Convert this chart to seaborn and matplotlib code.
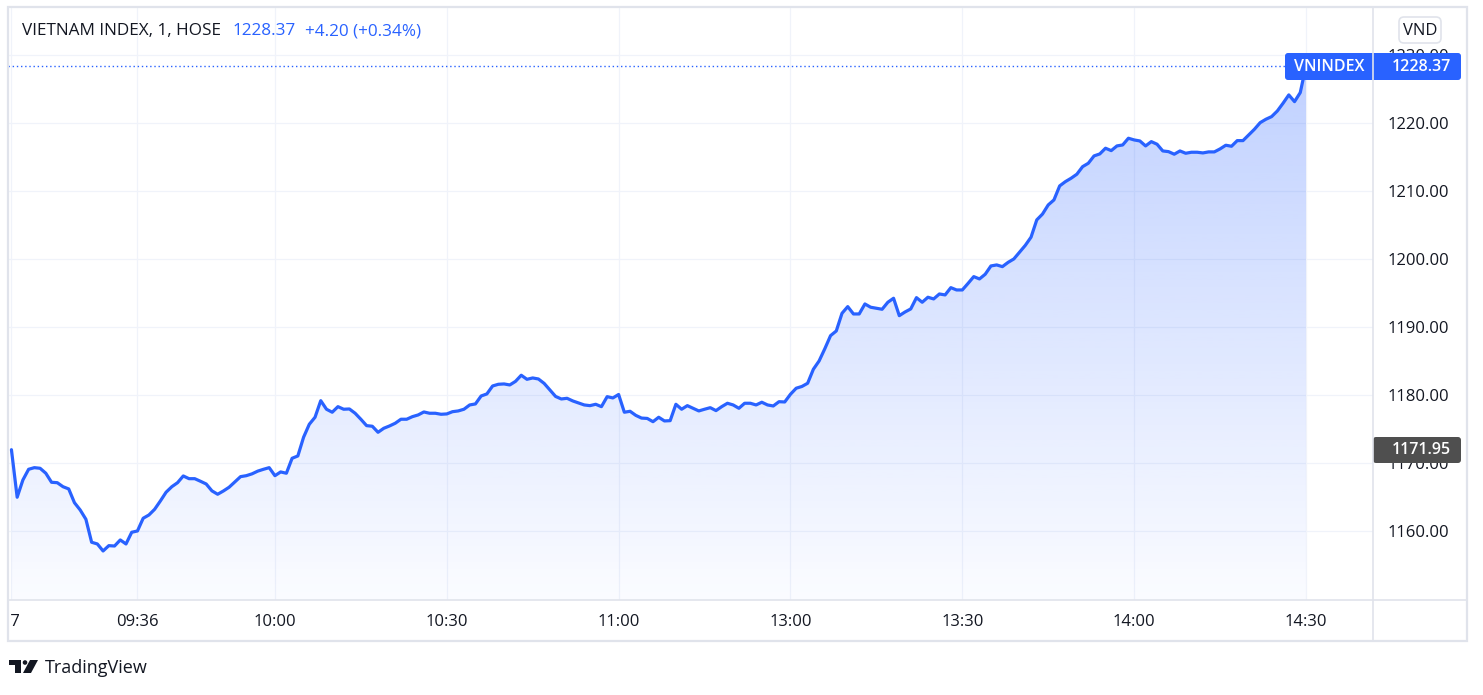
"""
VN-Index intraday chart (1 minute), TradingView look
"""

import matplotlib

matplotlib.use("Agg")
import matplotlib.pyplot as plt  # type: ignore
import numpy as np
import pandas as pd
import seaborn as sns  # type: ignore
from matplotlib.lines import Line2D
from matplotlib.patches import FancyBboxPatch, PathPatch, Polygon, Circle, Rectangle
from matplotlib.transforms import Affine2D, Bbox, TransformedBbox

# ---- data (trading minutes counted from 09:15, lunch break removed) ----
first_minute = -1
vnindex = [
    1171.95, 1164.96, 1167.50, 1169.07, 1169.31, 1169.22, 1168.49, 1167.16, 1167.10, 1166.51,
    1166.18, 1164.16, 1163.09, 1161.72, 1158.34, 1158.09, 1157.06, 1157.84, 1157.79, 1158.68,
    1158.09, 1159.81, 1160.00, 1161.87, 1162.35, 1163.19, 1164.41, 1165.70, 1166.51, 1167.10,
    1168.09, 1167.69, 1167.69, 1167.31, 1166.91, 1165.90, 1165.40, 1165.88, 1166.43, 1167.20,
    1167.99, 1168.13, 1168.40, 1168.80, 1169.07, 1169.31, 1168.13, 1168.68, 1168.49, 1170.69,
    1171.03, 1173.78, 1175.69, 1176.72, 1179.16, 1177.90, 1177.46, 1178.28, 1177.90, 1177.94,
    1177.31, 1176.43, 1175.49, 1175.40, 1174.51, 1175.10, 1175.44, 1175.84, 1176.43, 1176.43,
    1176.81, 1177.06, 1177.50, 1177.31, 1177.31, 1177.16, 1177.21, 1177.54, 1177.65, 1177.90,
    1178.53, 1178.68, 1179.85, 1180.15, 1181.32, 1181.57, 1181.62, 1181.47, 1182.00, 1182.90,
    1182.30, 1182.50, 1182.35, 1181.70, 1180.74, 1179.78, 1179.41, 1179.51, 1179.12, 1178.82,
    1178.53, 1178.43, 1178.63, 1178.28, 1179.75, 1179.56, 1180.07, 1177.46, 1177.60, 1177.00,
    1176.60, 1176.55, 1176.07, 1176.72, 1176.18, 1176.22, 1178.63, 1177.90, 1178.43, 1178.04,
    1177.65, 1177.90, 1178.13, 1177.70, 1178.28, 1178.78, 1178.53, 1178.04, 1178.78, 1178.78,
    1178.53, 1178.93, 1178.53, 1178.38, 1179.01, 1178.97, 1180.10, 1180.99, 1181.25, 1181.72,
    1183.78, 1185.00, 1186.80, 1188.72, 1189.41, 1192.01, 1192.99, 1191.91, 1191.91, 1193.38,
    1192.90, 1192.75, 1192.60, 1193.63, 1194.22, 1191.66, 1192.20, 1192.65, 1194.31, 1193.63,
    1194.37, 1194.12, 1194.85, 1194.71, 1195.78, 1195.44, 1195.44, 1196.40, 1197.40, 1197.06,
    1197.75, 1198.97, 1199.12, 1198.87, 1199.50, 1200.00, 1201.00, 1202.00, 1203.20, 1205.74,
    1206.60, 1207.94, 1208.68, 1210.74, 1211.37, 1211.87, 1212.46, 1213.57, 1214.07, 1215.15,
    1215.44, 1216.28, 1215.93, 1216.62, 1216.76, 1217.75, 1217.50, 1217.35, 1216.62, 1217.25,
    1216.87, 1215.88, 1215.78, 1215.40, 1215.88, 1215.54, 1215.69, 1215.69, 1215.59, 1215.74,
    1215.74, 1216.18, 1216.72, 1216.57, 1217.40, 1217.40, 1218.24, 1219.07, 1220.04, 1220.54,
    1220.93, 1221.76, 1222.90, 1224.12, 1223.13, 1224.46, 1228.37,
]
minutes = np.arange(first_minute, first_minute + len(vnindex))

tick_minutes = [-1, 21, 45, 75, 105, 135, 165, 195, 225]
tick_labels = ["17", "09:36", "10:00", "10:30", "11:00", "13:00", "13:30", "14:00", "14:30"]
price_ticks = [1160, 1170, 1180, 1190, 1200, 1210, 1220, 1230]

last_price = 1228.37
first_price = 1171.95
change_text = "+4.20 (+0.34%)"

BLUE = "#2962ff"
TEXT = "#131722"
GRID = "#f0f3fa"
BORDER = "#e0e3eb"

W, H = 1483, 695


def main() -> None:
    sns.set_theme(style="white")
    plt.rcParams["font.family"] = ["Open Sans", "DejaVu Sans"]

    fig = plt.figure(figsize=(W / 100, H / 100), dpi=100)
    fig.patch.set_facecolor("white")
    px = Affine2D().scale(1 / W, -1 / H).translate(0, 1) + fig.transFigure

    ax = fig.add_axes([8 / W, 1 - 600 / H, (1373 - 8) / W, (600 - 8) / H])

    df = pd.DataFrame({"minute": minutes, "vnindex": vnindex})

    # gradient area under the line
    poly = ax.fill_between(df["minute"], df["vnindex"], 1140, color="none", lw=0)
    clip = PathPatch(poly.get_paths()[0], transform=ax.transData, fc="none", ec="none")
    ax.add_patch(clip)
    rgba = np.zeros((256, 1, 4))
    rgba[..., 0], rgba[..., 1], rgba[..., 2] = 41 / 255, 98 / 255, 1.0
    rgba[..., 3] = np.linspace(0.02, 0.30, 256).reshape(-1, 1)
    img = ax.imshow(rgba, extent=[-1.6, 236.7, 1149.85, 1230.0], origin="lower",
                    aspect="auto", zorder=1, interpolation="bilinear")
    img.set_clip_path(clip)

    sns.lineplot(data=df, x="minute", y="vnindex", ax=ax, color=BLUE,
                 linewidth=2.3, zorder=3)
    ax.axhline(last_price, color=BLUE, lw=1.0, ls=(0, (1, 2)), zorder=2)
    ax.set_xlim(-1.6, 236.7)
    ax.set_ylim(1149.85, 1236.9)

    # grid and ticks
    ax.set_xticks(tick_minutes, tick_labels)
    ax.set_yticks(price_ticks, [f"{p:.2f}" for p in price_ticks])
    ax.yaxis.tick_right()
    ax.grid(True, color=GRID, lw=0.9)
    ax.set_axisbelow(True)
    ax.tick_params(axis="y", length=0, pad=10.5, labelsize=12, colors=TEXT)
    ax.tick_params(axis="x", length=0, pad=10, labelsize=12, colors=TEXT)
    ax.set_xlabel("")
    ax.set_ylabel("")
    for s in ax.spines.values():
        s.set_visible(False)

    # day label cut by the left border
    lab = ax.get_xticklabels()[0]
    lab.set_clip_box(TransformedBbox(Bbox.from_extents(7 / W, 0, 1, 1), fig.transFigure))
    lab.set_clip_on(True)

    # frame
    fig.add_artist(Rectangle((8, 7), 1459, 634, transform=px, fill=False,
                             ec=BORDER, lw=1.6))
    fig.add_artist(Line2D([1373, 1373], [7, 641], transform=px, color=BORDER, lw=1.2))
    fig.add_artist(Line2D([8, 1467], [600, 600], transform=px, color=BORDER, lw=1.2))

    # header
    fig.text(22 / W, 1 - 31 / H, "VIETNAM INDEX, 1, HOSE", color=TEXT,
             fontsize=12.3, va="center")
    fig.text(232 / W, 1 - 31 / H, f"{last_price:.2f}", color=BLUE,
             fontsize=12.3, va="center")
    fig.text(305 / W, 1 - 31 / H, change_text, color=BLUE, fontsize=12.3, va="center")

    # currency box
    fig.add_artist(FancyBboxPatch((1399, 17), 42, 26, transform=px,
                                  boxstyle="round,pad=0,rounding_size=5",
                                  fc="white", ec=BORDER, lw=1.2))
    fig.text(1420 / W, 1 - 31 / H, "VND", color=TEXT, fontsize=12, ha="center",
             va="center")

    # last price label
    fig.add_artist(FancyBboxPatch((1285, 53), 176, 27, transform=px,
                                  boxstyle="round,pad=0,rounding_size=3",
                                  fc=BLUE, ec="none"))
    fig.text(1294 / W, 1 - 67 / H, "VNINDEX", color="white", fontsize=11.5,
             fontweight="semibold", va="center")
    fig.text(1451 / W, 1 - 67 / H, f"{last_price:.2f}", color="white",
             fontsize=11.5, fontweight="semibold", va="center", ha="right")

    # first price label
    fig.add_artist(FancyBboxPatch((1373, 437), 88, 26, transform=px,
                                  boxstyle="round,pad=0,rounding_size=3",
                                  fc="#4f4f4f", ec="none"))
    fig.text(1451 / W, 1 - 450.5 / H, f"{first_price:.2f}", color="white",
             fontsize=11.5, fontweight="semibold", va="center", ha="right")

    # TradingView logo
    fig.add_artist(Polygon([(9, 660), (21, 660), (21, 673), (15, 673), (15, 665), (9, 665)],
                           closed=True, transform=px, fc=TEXT, ec="none"))
    fig.add_artist(Circle((25, 662.5), 2.3, transform=px, fc=TEXT, ec="none"))
    fig.add_artist(Polygon([(30, 660), (38, 660), (31, 673), (23, 673)],
                           closed=True, transform=px, fc=TEXT, ec="none"))
    fig.text(45 / W, 1 - 668 / H, "TradingView", color=TEXT, fontsize=13,
             va="center")

    plt.savefig("out.png", dpi=100)


if __name__ == "__main__":
    main()
